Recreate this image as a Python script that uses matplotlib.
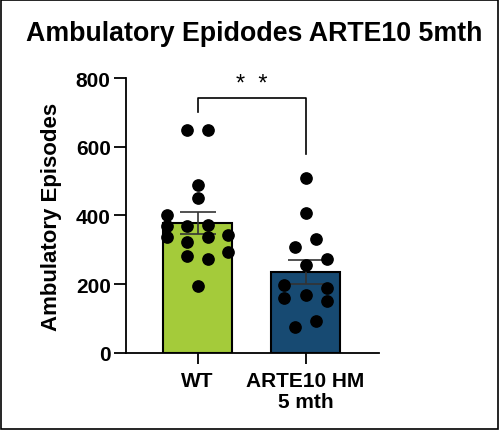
import matplotlib.pyplot as plt
from matplotlib.patches import Rectangle

plt.rcParams['font.family'] = ['Liberation Sans', 'DejaVu Sans']

# Grupos y valores
grupos = ["WT", "ARTE10 HM\n5 mth"]
medias = [378, 236]
sem = [33, 35]

wt_valores = [650, 650, 488, 451, 401, 368, 370, 372, 336, 336, 343, 322, 293, 281, 273, 196]
wt_jitter = [-0.1, 0.1, 0, 0, -0.28, -0.28, -0.1, 0.1, -0.28, 0.1, 0.28, -0.1, 0.28, -0.1, 0.1, 0]

arte_valores = [508, 406, 331, 309, 273, 256, 198, 190, 159, 169, 152, 93, 77]
arte_jitter = [0, 0, 0.1, -0.1, 0.2, 0, -0.2, 0.2, -0.2, 0, 0.2, 0.1, -0.1]

colores = ["#A4CB3A", "#174A72"]

fig = plt.figure(figsize=(5, 4.31), dpi=100)
ax = fig.add_axes([0.252, 0.1787, 0.5066, 0.638])

x = [0, 1]
ax.bar(x, medias, width=0.64, color=colores, edgecolor="black", linewidth=1.5, zorder=1)
ax.errorbar(x, medias, yerr=sem, fmt="none", ecolor="#333333", elinewidth=1.2,
            capsize=13, capthick=1.2, zorder=2)

ax.scatter([0 + j for j in wt_jitter], wt_valores, s=66, color="black", zorder=3, clip_on=False)
ax.scatter([1 + j for j in arte_jitter], arte_valores, s=66, color="black", zorder=3, clip_on=False)

# Corchete de significancia
ax.plot([0, 0, 1, 1], [700, 743, 743, 578], color="black", linewidth=1.2, clip_on=False)
ax.text(0.5, 750, "*  *", ha="center", va="bottom", fontsize=17)

ax.set_xlim(-0.662, 1.683)
ax.set_ylim(0, 800)
ax.set_yticks([0, 200, 400, 600, 800])
ax.set_xticks(x)
ax.set_xticklabels(grupos, fontsize=15, fontweight="bold", linespacing=1.15)
ax.tick_params(axis="y", labelsize=15, length=9, width=1.3, pad=2)
ax.tick_params(axis="x", length=8, width=1.3, pad=5)
for lab in ax.get_yticklabels():
    lab.set_fontweight("bold")

ax.spines["top"].set_visible(False)
ax.spines["right"].set_visible(False)
ax.spines["left"].set_linewidth(1.3)
ax.spines["bottom"].set_linewidth(1.3)

ax.set_ylabel("Ambulatory Episodes", fontsize=16, fontweight="bold")
ax.yaxis.set_label_coords(-0.253, 0.5)

fig.text(0.508, 0.921, "Ambulatory Epidodes ARTE10 5mth", ha="center", va="center",
         fontsize=19.3, fontweight="bold")

# Marco negro alrededor de la figura
fig.patches.append(Rectangle((0.002, 0.003), 0.994, 0.994, transform=fig.transFigure,
                             fill=False, edgecolor="black", linewidth=1.2))

fig.savefig("out.png", dpi=100)
